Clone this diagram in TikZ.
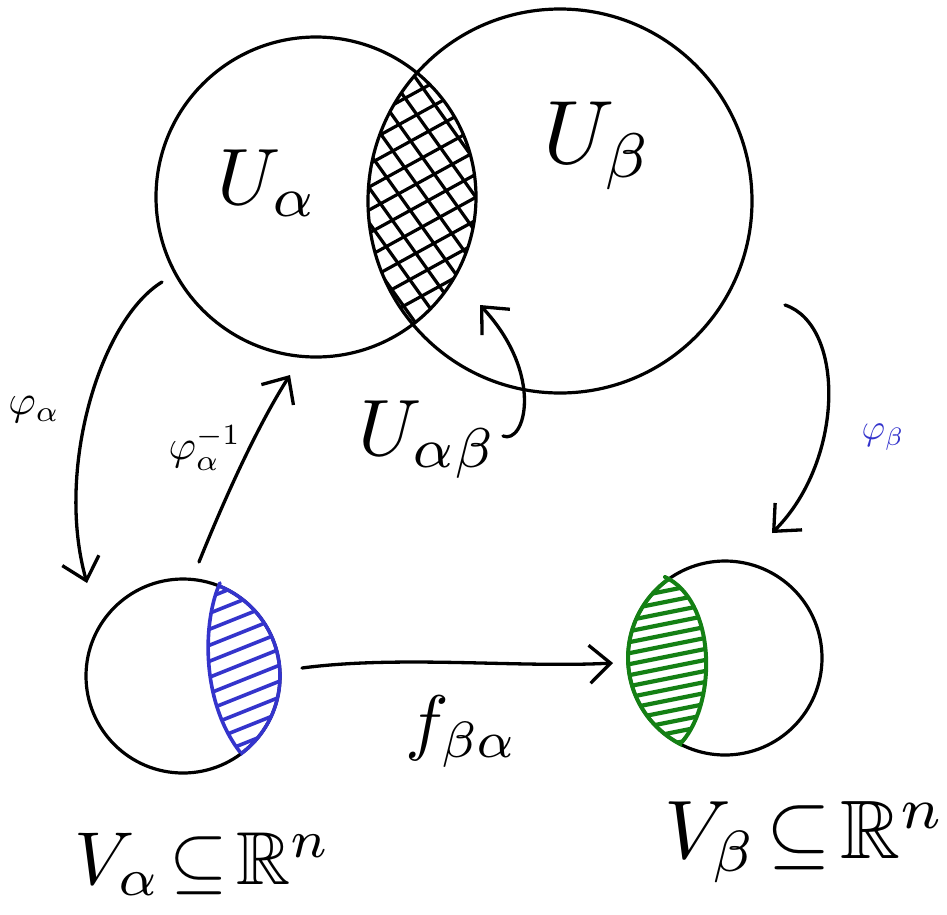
\documentclass[tikz,border=0pt]{standalone}
\usepackage{amssymb}
\usepackage{graphicx}
\usetikzlibrary{arrows.meta}
\definecolor{handblue}{RGB}{52,52,204}
\definecolor{handgreen}{RGB}{20,128,20}
\newcommand\bigmath[2]{\scalebox{#1}{$#2$}}

\begin{document}
\begin{tikzpicture}[x=1pt, y=-1pt, line cap=round, line join=round,
  setline/.style={draw, circle, line width=3.2pt, inner sep=0pt},
  maparrow/.style={line width=3.3pt, -{Straight Barb[length=21pt,width=38pt]}},
  hatch/.style={line width=3.2pt},
  lbl/.style={inner sep=0pt}]
\useasboundingbox (0,0) rectangle (947,914);

% cross-hatched overlap of the two charts
\begin{scope}
  \clip (316,197) circle[radius=160pt];
  \clip (560,201) circle[radius=192pt];
  \foreach \s in {135,160,...,430} \draw[hatch] (\s,0) -- ++(300,420);
  \foreach \t in {110,133,...,430} \draw[hatch] (300,\t) -- ++(250,-137.5);
\end{scope}

% open sets of the manifold
\node[setline, minimum size=320pt] (Ua) at (316,197) {};
\node[setline, minimum size=384pt] (Ub) at (560,201) {};

% model domains in R^n
\node[setline, minimum size=194pt] (Va) at (183,676) {};
\node[setline, minimum size=194pt] (Vb) at (725,658) {};

% image of the overlap in V_alpha
\begin{scope}
  \clip (222,540) -- (222,583) .. controls (203,620) and (200,700) .. (240,752)
        -- (250,800) -- (330,800) -- (330,540) -- cycle;
  \draw[handblue, line width=3.6pt] (183,676) circle[radius=97pt];
  \clip (183,676) circle[radius=97pt];
  \foreach \t in {589,605,...,800} \draw[handblue, line width=3.6pt] (190,\t) -- ++(110,-44);
\end{scope}
\draw[handblue, line width=3.6pt] (220,583) .. controls (203,620) and (200,700) .. (240,752);

% image of the overlap in V_beta
\begin{scope}
  \clip (665,540) -- (665,577) .. controls (715,600) and (718,700) .. (682,742)
        -- (682,790) -- (600,790) -- (600,540) -- cycle;
  \draw[handgreen, line width=4pt] (725,658) circle[radius=97pt];
  \clip (725,658) circle[radius=97pt];
  \foreach \t in {580,591,...,770} \draw[handgreen, line width=4.2pt] (610,\t) -- ++(110,-22);
\end{scope}
\draw[handgreen, line width=4pt] (665,577) .. controls (715,600) and (718,700) .. (682,742);

% arrow end points
\coordinate (pa1) at (162,282);
\coordinate (pa2) at (87,583);
\coordinate (pi1) at (199,562);
\coordinate (pi2) at (290,375);
\coordinate (pb1) at (785,305);
\coordinate (pb2) at (772,533);
\coordinate (ov1) at (503,436);
\coordinate (ov2) at (480,305);
\coordinate (f1) at (302,668);
\coordinate (f2) at (613,663);

% maps
\draw[maparrow] (pa1) .. controls (100,320) and (55,470) .. (pa2);
\draw[maparrow] (pi1) .. controls (222,505) and (255,430) .. (pi2);
\draw[maparrow] (pb1) .. controls (845,325) and (845,460) .. (pb2);
\draw[maparrow] (ov1) .. controls (525,445) and (545,375) .. (ov2);
\draw[maparrow] (f1) .. controls (400,655) and (520,668) .. (f2);

% labels
\node[lbl] (lUa) at (268,183) {\bigmath{8}{U_\alpha}};
\node[lbl] (lUb) at (598,146) {\bigmath{9}{U_\beta}};
\node[lbl] (lUab) at (428,440) {\bigmath{8}{U_{\alpha\beta}}};
\node[lbl] (lpa) at (34,410) {\bigmath{4.2}{\varphi_\alpha}};
\node[lbl] (lpi) at (205,448) {\bigmath{4.2}{\varphi_\alpha^{-1}}};
\node[lbl, text=handblue] (lpb) at (883,437) {\bigmath{3.6}{\varphi_\beta}};
\node[lbl] (lf) at (462,732) {\bigmath{7.3}{f_{\beta\alpha}}};
\node[lbl] (lVa) at (203,864) {\bigmath{7.5}{V_\alpha\!\subseteq\!\mathbb{R}^n}};
\node[lbl] (lVb) at (805,842) {\bigmath{8.3}{V_\beta\!\subseteq\!\mathbb{R}^n}};
\end{tikzpicture}
\end{document}
